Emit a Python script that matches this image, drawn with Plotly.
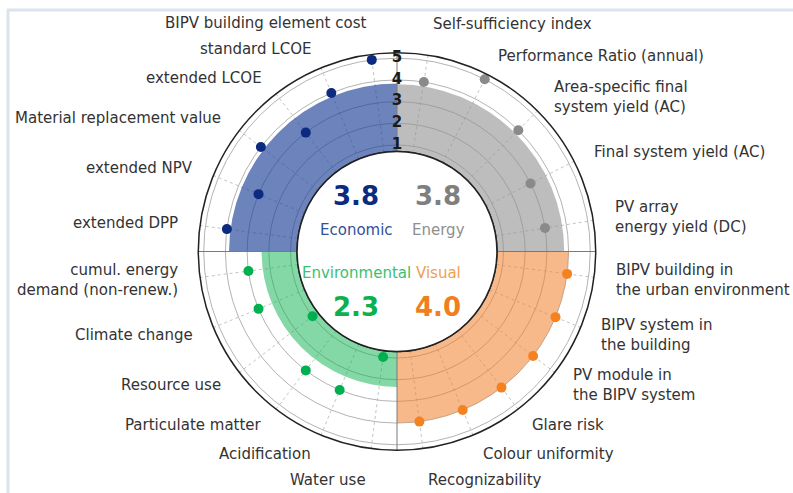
import numpy as np
import plotly.graph_objects as go

# ---------------- data ----------------
econ_labels = ["BIPV building element cost", "standard LCOE", "extended LCOE",
               "Material replacement value", "extended NPV", "extended DPP"]
econ_values = [5, 4, 3, 4, 3, 4]

energy_labels = ["Self-sufficiency index", "Performance Ratio (annual)",
                 "Area-specific final<br>system yield (AC)", "Final system yield (AC)",
                 "PV array<br>energy yield (DC)"]
energy_values = [4, 5, 4, 3, 3]

visual_labels = ["BIPV building in<br>the urban environment", "BIPV system in<br>the building",
                 "PV module in<br>the BIPV system", "Glare risk", "Colour uniformity",
                 "Recognizability"]
visual_values = [4, 4, 4, 4, 4, 4]

env_labels = ["cumul. energy<br>demand (non-renew.)", "Climate change", "Resource use",
              "Particulate matter", "Acidification", "Water use"]
env_values = [3, 3, 1, 3, 3, 1]

radial_ticks = [1, 2, 3, 4, 5]

# ---------------- layout constants ----------------
W, H = 793, 493
CX, CY, RAD = 397, 251.5, 198.7
R_MIN, R_MAX = 0.7, 5.25
HOLE = 0.503
LABEL_R = 219
FONT = "DejaVu Sans"

# name, labels, values, quadrant start angle, direction, dot colour, fill colour, number colour, name colour, text side
groups = [
    ("Economic", econ_labels, econ_values, 360, -1, "#0b2a80", "rgba(29,64,150,0.65)", "#0b2a80", "#33509a", -1, -1),
    ("Energy", energy_labels, energy_values, 0, 1, "#8a8a8a", "rgba(145,145,145,0.6)", "#7f7f7f", "#8f8f8f", 1, -1),
    ("Visual", visual_labels, visual_values, 90, 1, "#f58220", "rgba(240,128,42,0.55)", "#f07f1e", "#f0a050", 1, 1),
    ("Environmental", env_labels, env_values, 270, -1, "#00b050", "rgba(19,180,82,0.52)", "#0cb04c", "#3cc070", -1, 1),
]

fig = go.Figure()
annotations = []
all_thetas = []

for name, labels, values, start, sgn, dcol, fcol, ncol, lcol, side, vside in groups:
    n = len(values)
    thetas = [start + sgn * (i + 0.5) * 90.0 / n for i in range(n)]
    all_thetas += thetas
    mean = float(np.mean(values))
    center = start + sgn * 45
    fig.add_trace(go.Barpolar(r=[mean - R_MIN], base=[R_MIN], theta=[center], width=[90],
                              marker=dict(color=fcol, line=dict(width=0)),
                              hoverinfo="skip", showlegend=False))
    fig.add_trace(go.Scatterpolar(r=values, theta=thetas, mode="markers",
                                  marker=dict(size=10, color=dcol),
                                  hoverinfo="skip", showlegend=False, cliponaxis=False))
    # indicator labels
    for lab, th in zip(labels, thetas):
        s, c = np.sin(np.radians(th)), np.cos(np.radians(th))
        px = CX + LABEL_R * s
        py = CY - LABEL_R * c
        if c > 0.95:
            ya = "bottom"
        elif c < -0.95:
            ya = "top"
        else:
            ya = "middle"
        xa = "left" if s > 0 else "right"
        annotations.append(dict(x=px / W, y=1 - py / H, xref="paper", yref="paper",
                                text=lab, showarrow=False, xanchor=xa, yanchor=ya,
                                align=xa, font=dict(family=FONT, size=15, color="#333333")))
    # centre texts
    tx = CX + side * 41
    annotations.append(dict(x=tx / W, y=1 - (CY + vside * 55.5) / H, xref="paper", yref="paper",
                            text="<b>%.1f</b>" % mean, showarrow=False, xanchor="center",
                            yanchor="middle", font=dict(family=FONT, size=26, color=ncol)))
    annotations.append(dict(x=tx / W, y=1 - (CY + vside * 21.5) / H, xref="paper", yref="paper",
                            text=name, showarrow=False, xanchor="center",
                            yanchor="middle", font=dict(family=FONT, size=15, color=lcol)))

# quadrant boundary lines
for th in [0, 90, 180, 270]:
    fig.add_trace(go.Scatterpolar(r=[R_MIN, R_MAX], theta=[th, th], mode="lines",
                                  line=dict(color="#7a7a7a", width=1),
                                  hoverinfo="skip", showlegend=False, cliponaxis=False))

# inner hole outline
circ = np.linspace(0, 360, 361)
fig.add_trace(go.Scatterpolar(r=[R_MIN] * len(circ), theta=circ, mode="lines",
                              line=dict(color="#222222", width=1.5),
                              hoverinfo="skip", showlegend=False, cliponaxis=False))

# radial tick labels
fig.add_trace(go.Scatterpolar(r=radial_ticks, theta=[0] * len(radial_ticks), mode="text",
                              text=[str(t) for t in radial_ticks], textposition="middle center",
                              textfont=dict(family=FONT, size=15, color="#1a1a1a", weight="bold"),
                              hoverinfo="skip", showlegend=False, cliponaxis=False))

fig.update_layout(
    width=W, height=H, autosize=False,
    margin=dict(l=0, r=0, t=0, b=0),
    paper_bgcolor="white",
    font=dict(family=FONT),
    polar=dict(
        domain=dict(x=[(CX - RAD) / W, (CX + RAD) / W], y=[1 - (CY + RAD) / H, 1 - (CY - RAD) / H]),
        hole=HOLE,
        bgcolor="white",
        radialaxis=dict(range=[R_MIN, R_MAX], tickvals=radial_ticks, showticklabels=False,
                        ticks="", gridcolor="#b3b3b3", gridwidth=1, showline=False, angle=90),
        angularaxis=dict(rotation=90, direction="clockwise", tickvals=all_thetas,
                         showticklabels=False, ticks="", gridcolor="#c4c4c4", griddash="dot",
                         showline=True, linecolor="#222222", linewidth=1.5),
    ),
    annotations=annotations,
    shapes=[
        dict(type="line", xref="paper", yref="paper", x0=7 / W, x1=1, y0=1 - 10 / H, y1=1 - 10 / H,
             line=dict(color="#dbe3ec", width=3)),
        dict(type="line", xref="paper", yref="paper", x0=8 / W, x1=8 / W, y0=1 - 10 / H, y1=0,
             line=dict(color="#dbe3ec", width=3)),
    ],
)

fig.write_html("out.html", config={"displayModeBar": False},
               post_script="document.body.style.margin='0';document.body.style.overflow='hidden';")
